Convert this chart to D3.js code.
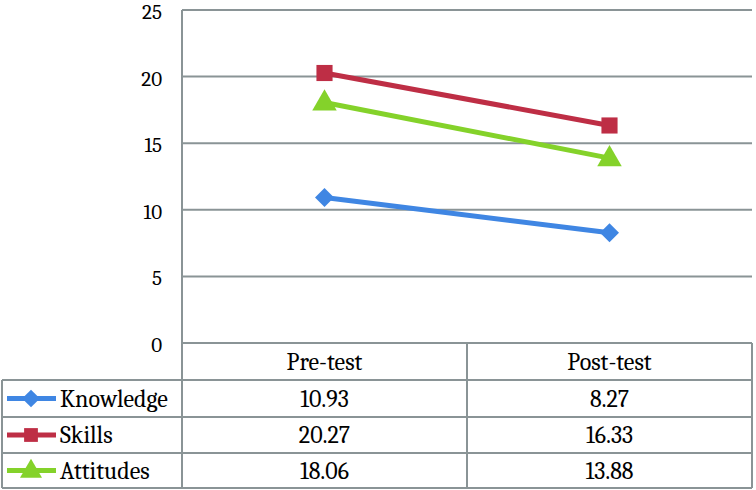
<!DOCTYPE html>
<html><head><meta charset="utf-8">
<script src="https://cdn.jsdelivr.net/npm/d3@7"></script>
<style>body{margin:0;background:#fff}svg{display:block}</style>
</head><body>
<script>
const categories = ["Pre-test", "Post-test"];
const seriesNames = ["Knowledge", "Skills", "Attitudes"];
const knowledge = [10.93, 8.27];
const skills = [20.27, 16.33];
const attitudes = [18.06, 13.88];
const yTicks = [0, 5, 10, 15, 20, 25];
const colors = ["#3F86E3", "#BE2E45", "#84D22A"];
const symbols = [d3.symbolDiamond2, d3.symbolSquare, d3.symbolTriangle];
const series = [knowledge, skills, attitudes];
const labels = [["10.93","8.27"],["20.27","16.33"],["18.06","13.88"]];

const W = 756, H = 490;
const svg = d3.select("body").append("svg").attr("width", W).attr("height", H);
const font = "Cambria, 'DejaVu Serif', serif";
const fs = 24;
const L = 182, R = 752, T = 10, B = 343;
const grid = "#8a9496";

const x = d3.scaleBand().domain(categories).range([L, R]);
const y = d3.scaleLinear().domain([0, 25]).range([B, T]);

// gridlines
svg.append("g").selectAll("line").data(yTicks).join("line")
  .attr("x1", L).attr("x2", R).attr("y1", d => y(d)).attr("y2", d => y(d))
  .attr("stroke", grid).attr("stroke-width", 2);
svg.append("g").selectAll("text").data(yTicks).join("text")
  .attr("x", 162).attr("y", d => y(d) + 9).attr("text-anchor", "end")
  .attr("font-family", font).attr("font-size", 21).attr("fill", "#000").text(d => d);

// table
const rowH = [343, 380, 417, 453, 488];
const tg = svg.append("g").attr("stroke", grid).attr("stroke-width", 2).attr("fill", "none");
tg.append("line").attr("x1", L).attr("x2", L).attr("y1", T).attr("y2", rowH[4]);
tg.append("line").attr("x1", R).attr("x2", R).attr("y1", rowH[0]).attr("y2", rowH[4]);
tg.append("line").attr("x1", x("Post-test")).attr("x2", x("Post-test")).attr("y1", rowH[0]).attr("y2", rowH[4]);
tg.append("line").attr("x1", 2).attr("x2", 2).attr("y1", rowH[1]).attr("y2", rowH[4]);
rowH.forEach((ry, i) => {
  tg.append("line").attr("x1", i === 0 ? L : 2).attr("x2", R).attr("y1", ry).attr("y2", ry);
});

// header labels
svg.append("g").selectAll("text").data(categories).join("text")
  .attr("x", d => x(d) + x.bandwidth() / 2).attr("y", (rowH[0] + rowH[1]) / 2 + 8)
  .attr("text-anchor", "middle").attr("font-family", font).attr("font-size", fs).text(d => d);

// rows
seriesNames.forEach((name, i) => {
  const cy = (rowH[i + 1] + rowH[i + 2]) / 2;
  svg.append("line").attr("x1", 7).attr("x2", 56).attr("y1", cy).attr("y2", cy)
    .attr("stroke", colors[i]).attr("stroke-width", 5);
  svg.append("path").attr("d", d3.symbol().type(symbols[i]).size(i === 1 ? 190 : i === 0 ? 200 : 210)())
    .attr("transform", `translate(31,${cy + (i === 2 ? 1 : 0)})`).attr("fill", colors[i]);
  svg.append("text").attr("x", 60).attr("y", cy + 8).attr("font-family", font)
    .attr("font-size", fs).text(name);
  categories.forEach((c, j) => {
    svg.append("text").attr("x", x(c) + x.bandwidth() / 2).attr("y", cy + 8)
      .attr("text-anchor", "middle").attr("font-family", font).attr("font-size", fs)
      .text(labels[i][j]);
  });
});

// lines & markers
const line = d3.line().x((d, j) => x(categories[j]) + x.bandwidth() / 2).y(d => y(d));
series.forEach((s, i) => {
  svg.append("path").datum(s).attr("d", line).attr("fill", "none")
    .attr("stroke", colors[i]).attr("stroke-width", 5);
  svg.append("g").selectAll("path").data(s).join("path")
    .attr("d", d3.symbol().type(symbols[i]).size(i === 1 ? 260 : i === 0 ? 230 : 260)())
    .attr("transform", (d, j) => `translate(${x(categories[j]) + x.bandwidth() / 2},${y(d) + (i === 2 ? 1 : 0)})`)
    .attr("fill", colors[i]);
});
</script>
</body></html>
